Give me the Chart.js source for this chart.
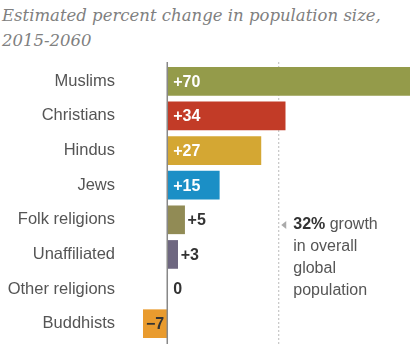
<!DOCTYPE html>
<html>
<head>
<meta charset="utf-8">
<script src="https://cdn.jsdelivr.net/npm/chart.js@4"></script>
<style>
  body { margin: 0; background: #fff; }
  #wrap { position: relative; width: 420px; height: 344px; }
  #title {
    position: absolute; left: 2px; top: 3px;
    font-family: "DejaVu Serif", serif; font-style: italic;
    font-size: 16.5px; line-height: 25px; color: #808080;
  }
  canvas { position: absolute; left: 0; top: 0; }
</style>
</head>
<body>
<div id="wrap">
  <div id="title">Estimated percent change in population size,<br>2015-2060</div>
  <canvas id="chart" width="420" height="344"></canvas>
</div>
<script>
var groups = ["Muslims", "Christians", "Hindus", "Jews", "Folk religions", "Unaffiliated", "Other religions", "Buddhists"];
var change = [70, 34, 27, 15, 5, 3, 0, -7];
var colors = ["#949b4a", "#c23b27", "#d4a733", "#1b8fc6", "#918b55", "#6e6780", "#999999", "#e99b2e"];
var globalGrowth = 32;
var noteLines = ["growth", "in overall", "global", "population"];

function fmt(v) {
  if (v > 0) return "+" + v;
  if (v < 0) return "\u2212" + Math.abs(v);
  return "0";
}

/* zero line, dotted 32% line, value labels and the note */
var extras = {
  id: "extras",
  beforeDatasetsDraw: function (chart) {
    var c = chart.ctx, x = chart.scales.x;
    var xg = x.getPixelForValue(globalGrowth);
    c.save();
    c.strokeStyle = "#bbb";
    c.lineWidth = 1;
    c.setLineDash([2, 2]);
    c.beginPath(); c.moveTo(xg + 0.5, 62); c.lineTo(xg + 0.5, 344); c.stroke();
    c.restore();
  },
  afterDatasetsDraw: function (chart) {
    var c = chart.ctx, x = chart.scales.x;
    var x0 = x.getPixelForValue(0), xg = x.getPixelForValue(globalGrowth);
    var meta = chart.getDatasetMeta(0);
    c.save();
    c.strokeStyle = "#888";
    c.lineWidth = 1.5;
    c.beginPath(); c.moveTo(x0, 62); c.lineTo(x0, 344); c.stroke();

    c.font = "bold 16px 'Liberation Sans', Arial, sans-serif";
    c.textBaseline = "middle";
    c.textAlign = "left";
    meta.data.forEach(function (bar, i) {
      var v = change[i];
      var y = bar.y + 1;
      if (v >= 10) {
        // big bars: white label inside
        c.fillStyle = "#fff";
        c.fillText(fmt(v), x0 + 6, y);
      } else if (v > 0) {
        c.fillStyle = "#333";
        c.fillText(fmt(v), bar.x + 3, y);
      } else if (v === 0) {
        c.fillStyle = "#333";
        c.fillText(fmt(v), x0 + 6, y);
      } else {
        c.fillStyle = "#333";
        c.fillText(fmt(v), bar.x + 3, y);
      }
    });

    var ny = 225;
    c.fillStyle = "#aaa";
    c.beginPath();
    c.moveTo(xg + 3, ny); c.lineTo(xg + 8, ny - 4); c.lineTo(xg + 8, ny + 4); c.closePath(); c.fill();
    c.fillStyle = "#333";
    c.font = "bold 16px 'Liberation Sans', Arial, sans-serif";
    var tx = xg + 15;
    c.fillText(globalGrowth + "%", tx, ny);
    var w = c.measureText(globalGrowth + "% ").width;
    c.fillStyle = "#555";
    c.font = "16px 'Liberation Sans', Arial, sans-serif";
    c.fillText(noteLines[0], tx + w, ny);
    for (var k = 1; k < noteLines.length; k++) {
      c.fillText(noteLines[k], tx, ny + k * 22);
    }
    c.restore();
  }
};

new Chart(document.getElementById("chart"), {
  type: "bar",
  data: {
    labels: groups,
    datasets: [{
      data: change,
      backgroundColor: colors,
      barThickness: 28,
      borderWidth: 0
    }]
  },
  options: {
    indexAxis: "y",
    responsive: false,
    animation: false,
    layout: { padding: { top: 64, bottom: 3, right: 10, left: 0 } },
    plugins: { legend: { display: false }, tooltip: { enabled: false } },
    scales: {
      x: { display: false, min: -7, max: 70 },
      y: {
        grid: { display: false },
        border: { display: false },
        ticks: {
          color: "#555",
          padding: 20,
          font: { family: "'Liberation Sans', Arial, sans-serif", size: 16.5 }
        },
        afterFit: function (s) {
          s.width = 143;
          s.paddingTop = 0;
          s.paddingBottom = 0;
        }
      }
    }
  },
  plugins: [extras]
});
</script>
</body>
</html>
